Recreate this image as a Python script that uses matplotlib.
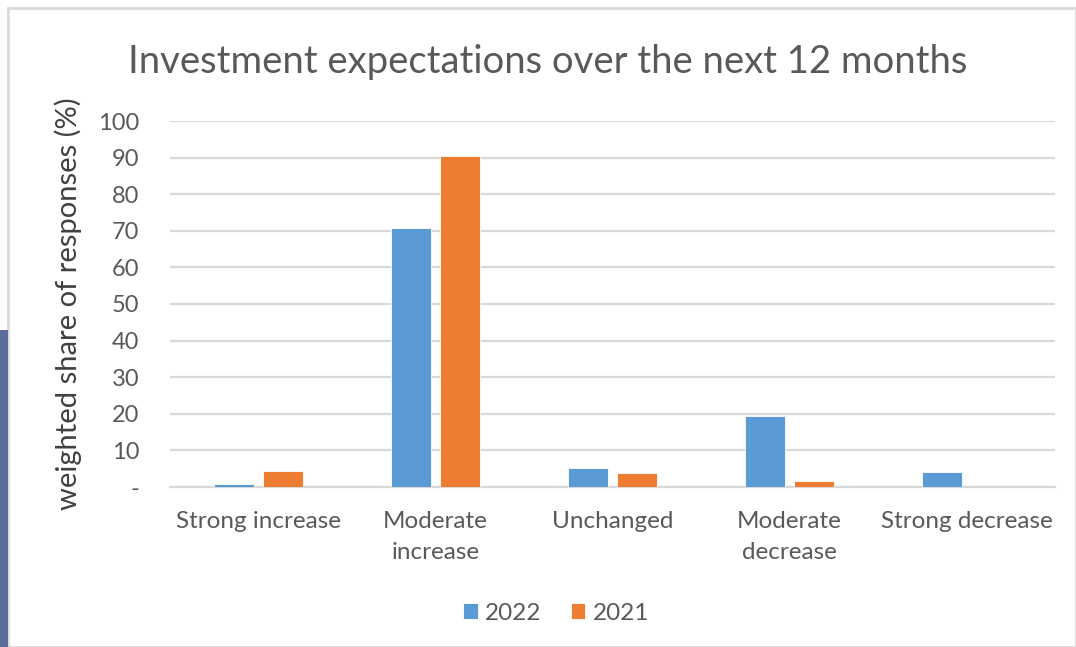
import matplotlib
matplotlib.use('Agg')
import matplotlib.pyplot as plt
import matplotlib.patches as mpatches
import numpy as np

# survey answers, weighted share of responses (%)
categories = ["Strong increase", "Moderate\nincrease", "Unchanged", "Moderate\ndecrease", "Strong decrease"]
share_2022 = [0.7, 70.8, 5.2, 19.4, 4.1]
share_2021 = [4.4, 90.4, 3.8, 1.6, 0.0]
yticks = [0, 10, 20, 30, 40, 50, 60, 70, 80, 90, 100]
ytick_labels = ["-", "10", "20", "30", "40", "50", "60", "70", "80", "90", "100"]

blue = "#5b9bd5"
orange = "#ed7d31"
grey_text = "#595959"
grid_col = "#d9d9d9"

plt.rcParams['font.family'] = ['Lato', 'DejaVu Sans']

fig = plt.figure(figsize=(10.76, 6.47), dpi=100, facecolor="white")

# chart frame and the dark strip on the left edge
fig.patches.append(mpatches.Rectangle((8/1076, 0), 1 - 8/1076, 1 - 8/647, transform=fig.transFigure,
                                      facecolor="none", edgecolor=grid_col, linewidth=2, zorder=0))
fig.patches.append(mpatches.Rectangle((0, 0), 8/1076, 1 - 330/647, transform=fig.transFigure,
                                      facecolor="#586d99", edgecolor="none", zorder=1))

ax = fig.add_axes([170/1076, 1 - 487/647, 885/1076, 366/647])
ax.set_facecolor("none")

x = np.arange(len(categories))
w = 0.226
gap = 0.056
ax.bar(x - (w + gap)/2, share_2022, w, color=blue, edgecolor="white", linewidth=0.6, label="2022", zorder=3)
ax.bar(x + (w + gap)/2, share_2021, w, color=orange, edgecolor="white", linewidth=0.6, label="2021", zorder=3)

ax.set_xlim(-0.5, len(categories) - 0.5)
ax.set_ylim(0, 100)
ax.set_yticks(yticks)
ax.set_yticklabels(ytick_labels)
ax.set_xticks(x)
ax.set_xticklabels(categories, linespacing=1.6)
ax.yaxis.grid(True, color=grid_col, linewidth=1.6, zorder=0)
ax.set_axisbelow(True)
for side in ["top", "right", "left"]:
    ax.spines[side].set_visible(False)
ax.spines["bottom"].set_color(grid_col)
ax.spines["bottom"].set_linewidth(1.6)
ax.tick_params(axis="y", length=0, pad=22, labelsize=17, labelcolor=grey_text)
ax.tick_params(axis="x", length=0, pad=17, labelsize=17.5, labelcolor=grey_text)
for lbl in ax.get_xticklabels():
    lbl.set_verticalalignment("top")

ax.set_ylabel("weighted share of responses (%)", fontsize=21, color="#404040", labelpad=12)
fig.text(548/1076, 1 - 62/647, "Investment expectations over the next 12 months",
         ha="center", va="center", fontsize=27.5, color=grey_text)

fig.legend(loc="center", bbox_to_anchor=(556/1076, 1 - 613/647), ncol=2, frameon=False,
           fontsize=17.5, handlelength=0.6, handleheight=0.6, handletextpad=0.3, columnspacing=1.2,
           labelcolor=grey_text)

plt.savefig("out.png", dpi=100)
